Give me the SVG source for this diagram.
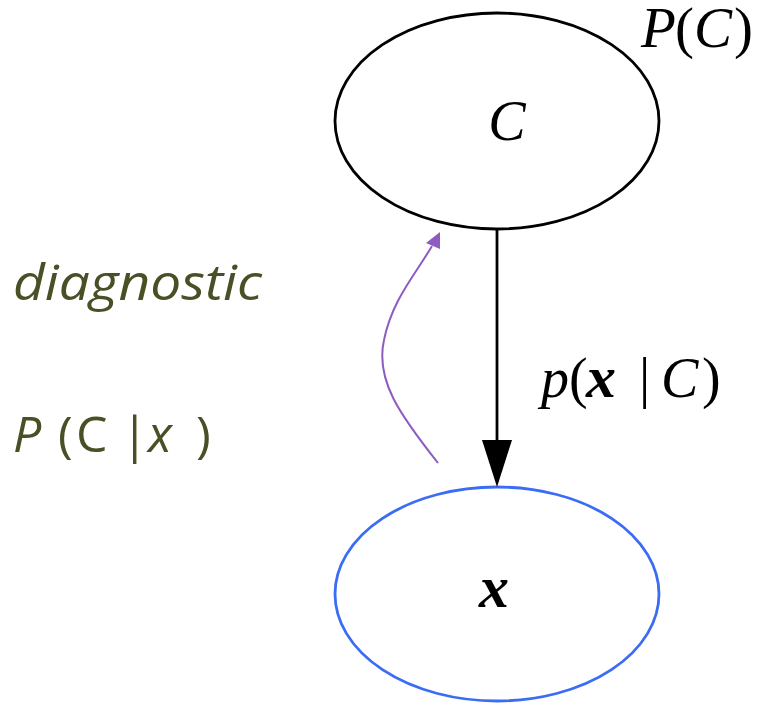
<svg xmlns="http://www.w3.org/2000/svg" width="760" height="703" viewBox="0 0 760 703">
<style>
.node{fill:none;stroke-width:2.8}
.math{font-family:"Liberation Serif","DejaVu Serif",serif;font-style:italic;fill:#000}
.up{font-style:normal}
.side{font-family:"Open Sans",Lato,"Noto Sans",sans-serif;font-style:italic;fill:#4a4f26}
</style>
<rect width="760" height="703" fill="#fff"/>
<g id="node-C">
<ellipse class="node" cx="497" cy="121" rx="162" ry="108" stroke="#000"/>
<text class="math" x="507" y="140" font-size="56" text-anchor="middle">C</text>
</g>
<g id="node-x">
<ellipse class="node" cx="497" cy="594" rx="162" ry="107" stroke="#3a6cf5"/>
<text class="math" x="494" y="607" font-size="60" font-weight="bold" text-anchor="middle">x</text>
</g>
<g id="connectors">
<line x1="497" y1="229" x2="497" y2="441" stroke="#000" stroke-width="2.8"/>
<path d="M482,440 L512,440 L497,487 Z" fill="#000"/>
<path d="M438,463 C 400,415 375,380 384,340 C 392,300 415,275 432,246" fill="none" stroke="#8e5cc0" stroke-width="2"/>
<path d="M440,232 L440,249 L426,243 Z" fill="#8e5cc0"/>
</g>
<g id="labels">
<text class="math" y="47" font-size="57"><tspan x="641">P</tspan><tspan class="up" x="675">(</tspan><tspan x="694">C</tspan><tspan class="up" x="734">)</tspan></text>
<text class="math" y="397" font-size="56"><tspan x="541">p</tspan><tspan class="up" x="569">(</tspan><tspan x="586" font-weight="bold" font-size="60">x</tspan><tspan class="up" x="639">|</tspan><tspan x="661">C</tspan><tspan class="up" x="702">)</tspan></text>
<text class="side" x="13" y="300" font-size="50" textLength="249" lengthAdjust="spacingAndGlyphs">diagnostic</text>
<text class="side" y="452" font-size="50"><tspan x="13">P</tspan><tspan class="up" x="58">(</tspan><tspan class="up" x="76">C</tspan><tspan class="up" x="121">|</tspan><tspan x="148">x</tspan><tspan class="up" x="196">)</tspan></text>
</g>
</svg>
